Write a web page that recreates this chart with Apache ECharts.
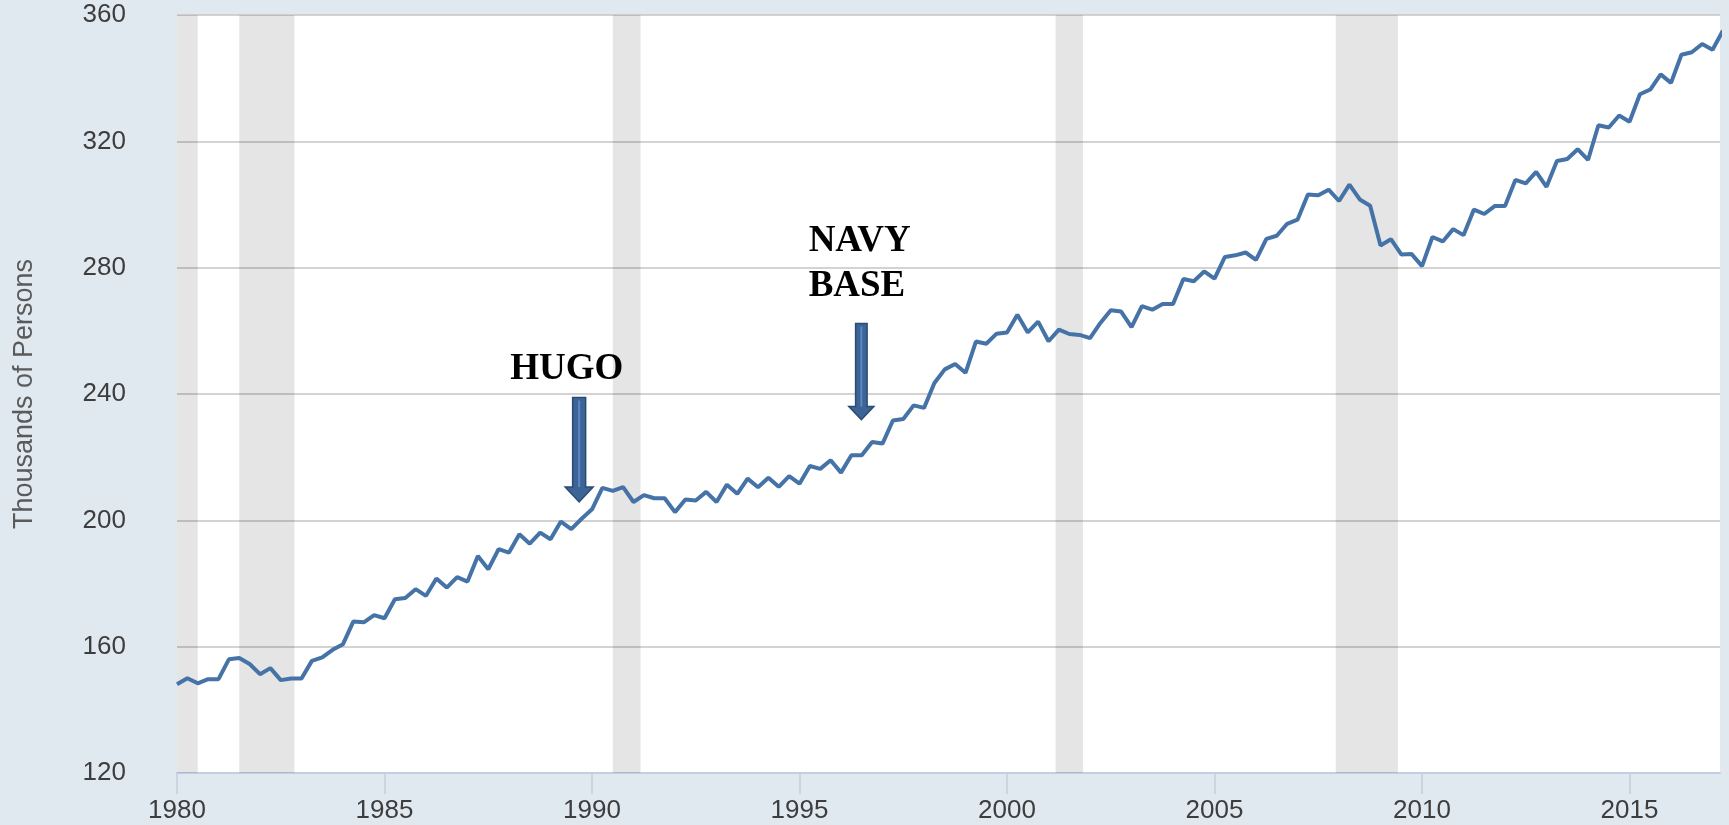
<!DOCTYPE html>
<html>
<head>
<meta charset="utf-8">
<script src="https://cdn.jsdelivr.net/npm/echarts@6/dist/echarts.min.js"></script>
<style>
html,body{margin:0;padding:0;background:#e1e9f0;}
#chart{width:1729px;height:825px;}
</style>
</head>
<body>
<div id="chart"></div>
<script>
// quarterly, first point = 1980 Q1
var startYear = 1980;
var persons = [
  148.1,150.0,148.4,149.7, 149.7,156.0,156.4,154.5, 151.3,153.2,149.4,149.9,
  149.9,155.5,156.6,159.0, 160.8,168.0,167.7,170.0, 169.0,175.0,175.4,178.2,
  176.1,181.6,178.7,182.0, 180.6,188.7,184.5,190.9, 189.8,195.6,192.6,196.1,
  194.0,199.6,197.2,200.5, 203.5,210.3,209.3,210.5, 205.8,208.0,207.0,207.0,
  202.6,206.6,206.3,209.0, 205.8,211.3,208.4,213.2, 210.5,213.5,210.6,214.0,
  211.6,217.2,216.3,219.0, 215.1,220.6,220.6,224.8, 224.3,231.6,232.1,236.4,
  235.6,243.5,247.8,249.5, 246.7,256.6,255.9,259.1, 259.5,265.1,259.5,262.9,
  256.7,260.4,259.0,258.7, 257.7,262.5,266.5,266.1, 261.2,267.8,266.7,268.5,
  268.5,276.4,275.7,278.8, 276.5,283.4,283.9,284.8, 282.5,289.1,290.1,293.9,
  295.2,303.2,302.9,304.7, 301.1,306.3,301.6,299.6, 287.0,289.0,284.2,284.3,
  280.5,289.7,288.3,292.2, 290.3,298.4,297.0,299.5, 299.5,307.8,306.7,310.3,
  305.6,313.8,314.4,317.5, 314.1,325.1,324.4,328.2, 326.2,334.9,336.4,341.2,
  338.5,347.4,348.2,350.8, 349.0,355.0
];
// recession periods, decimal years
var recessions = [
  [1980.0, 1980.5],
  [1981.5, 1982.83],
  [1990.5, 1991.17],
  [2001.17, 2001.83],
  [2007.92, 2009.42]
];
var yearTicks = [1980,1985,1990,1995,2000,2005,2010,2015];

// annotations, in data units
var notes = [
  {text:'HUGO', x:1989.39, y:247.7, align:'center'},
  {text:'NAVY\nBASE', x:1995.22, y:281.1, align:'left'}
];
var arrows = [
  {x:1989.69, top:238.9, tip:205.8, shaft:13, head:28, headLen:15},
  {x:1996.49, top:262.3, tip:231.9, shaft:11.5, head:25, headLen:13}
];

var chart = echarts.init(document.getElementById('chart'));

var lineData = persons.map(function(v, i){ return [startYear + i/4, v]; });
var shade = recessions.map(function(r){ return [{xAxis:r[0]},{xAxis:r[1]}]; });

var option = {
  backgroundColor: '#e1e9f0',
  animation: false,
  grid: {left:177, right:9, top:15, bottom:52, show:true, backgroundColor:'#fff', borderWidth:0},
  xAxis: {
    type: 'value',
    min: 1980,
    max: 2017.18,
    axisLine: {show:true, lineStyle:{color:'#c0d0e0', width:2}},
    axisTick: {show:true, length:21, customValues:yearTicks, lineStyle:{color:'#c0d0e0', width:1.5}},
    axisLabel: {customValues:yearTicks, margin:25, fontSize:26, color:'#3d3d3d', fontFamily:'Liberation Sans',
      formatter: function(v){ return String(v); }},
    splitLine: {show:false}
  },
  yAxis: {
    type: 'value',
    min: 120,
    max: 360,
    interval: 40,
    name: 'Thousands of Persons',
    nameLocation: 'middle',
    nameRotate: 90,
    nameGap: 139,
    nameTextStyle: {fontSize:27, color:'#5a5a5a', fontFamily:'Liberation Sans'},
    axisLine: {show:false},
    axisTick: {show:false},
    axisLabel: {margin:51, fontSize:26, color:'#3d3d3d', fontFamily:'Liberation Sans'},
    splitLine: {show:true, lineStyle:{color:'#c4c4c4', width:1.5}}
  },
  series: [{
    type: 'line',
    data: lineData,
    showSymbol: false,
    symbol: 'none',
    lineStyle: {color:'#4572a7', width:4},
    markArea: {
      silent: true,
      itemStyle: {color:'rgba(0,0,0,0.1)'},
      data: shade
    }
  }]
};
chart.setOption(option);

// annotation text and arrows placed through the chart's own scales
var gfx = [];
notes.forEach(function(n){
  var p = chart.convertToPixel({gridIndex:0}, [n.x, n.y]);
  gfx.push({
    type: 'text', x: p[0], y: p[1], z: 10,
    style: {text:n.text, font:'bold 37px "Liberation Serif"', fill:'#000',
      align:n.align, verticalAlign:'middle', lineHeight:45}
  });
});
arrows.forEach(function(a){
  var t = chart.convertToPixel({gridIndex:0}, [a.x, a.top]);
  var b = chart.convertToPixel({gridIndex:0}, [a.x, a.tip]);
  var cx = t[0], hs = a.shaft/2, hh = a.head/2, yb = b[1] - a.headLen;
  gfx.push({
    type: 'polygon', z: 10,
    shape: {points: [[cx-hs,t[1]],[cx+hs,t[1]],[cx+hs,yb],[cx+hh,yb],[cx,b[1]],[cx-hh,yb],[cx-hs,yb]]},
    style: {fill:'#3c6496', stroke:'#2b4b73', lineWidth:1.5}
  });
  gfx.push({
    type: 'line', z: 11,
    shape: {x1:cx, y1:t[1]+3, x2:cx, y2:yb},
    style: {stroke:'#5a88c2', lineWidth:2}
  });
});
chart.setOption({graphic: gfx});
</script>
</body>
</html>
